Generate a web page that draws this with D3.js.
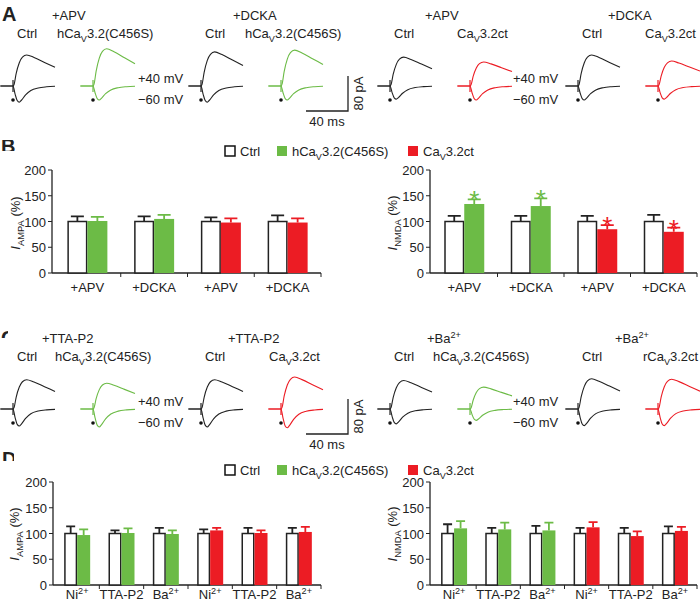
<!DOCTYPE html>
<html>
<head>
<meta charset="utf-8">
<script src="https://cdn.jsdelivr.net/npm/d3@7"></script>
<style>
body { margin: 0; background: #fff; }
text { font-family: "Liberation Sans", Arial, Helvetica, sans-serif; fill: #222; }
</style>
</head>
<body>
<svg id="fig" width="700" height="601"></svg>
<script>
// ---- data ----

// panel B (AMPA / NMDA currents, % of ctrl)
const groupsB = ['+APV', '+DCKA', '+APV', '+DCKA']
const seriesB = ['green', 'green', 'red', 'red']
const ampaCtrlB = [100, 100, 100, 100]
const ampaCtrlErrB = [10, 10, 8, 12]
const ampaTestB = [101, 105, 98, 98]
const ampaTestErrB = [8, 8, 8, 8]
const nmdaCtrlB = [100, 100, 100, 100]
const nmdaCtrlErrB = [11, 11, 11, 13]
const nmdaTestB = [134, 130, 85, 80]
const nmdaTestErrB = [9, 15, 8, 8]
const nmdaSigB = [true, true, true, true]

// panel D
const groupsD = ['Ni^{2+}', 'TTA-P2', 'Ba^{2+}', 'Ni^{2+}', 'TTA-P2', 'Ba^{2+}']
const seriesD = ['green', 'green', 'green', 'red', 'red', 'red']
const ampaCtrlD = [100, 100, 100, 100, 100, 100]
const ampaCtrlErrD = [14, 6, 11, 8, 11, 11]
const ampaTestD = [97, 101, 99, 106, 101, 103]
const ampaTestErrD = [11, 9, 7, 5, 5, 10]
const nmdaCtrlD = [100, 100, 100, 100, 100, 100]
const nmdaCtrlErrD = [18, 11, 15, 11, 11, 14]
const nmdaTestD = [110, 108, 106, 112, 95, 105]
const nmdaTestErrD = [14, 13, 15, 10, 9, 8]

const yTicks = [0, 50, 100, 150, 200]
const legendNames = ['Ctrl', 'hCa_{V}3.2(C456S)', 'Ca_{V}3.2ct']

// example traces: time after stimulus (ms), fraction of peak
const upShape = [[-12, 0], [0, 0], [1, 0.05], [3, 0.4], [6, 0.75], [9, 0.93], [13, 1], [20, 0.92], [30, 0.76], [40, 0.6]]
const downShape = [[-12, 0], [0, 0], [2, -0.5], [4, -0.9], [6, -1], [8, -0.88], [12, -0.55], [17, -0.28], [24, -0.12], [32, -0.05], [40, -0.02]]

// peak amplitudes (pA) per trace, order: ctrl, test, ctrl, test, ...
const traceSeries = ['ctrl', 'green', 'ctrl', 'green', 'ctrl', 'red', 'ctrl', 'red']
const upAmpA = [71, 85, 78, 82, 66, 55, 71, 57]
const downAmpA = [37, 32, 37, 32, 30, 32, 32, 30]
const traceSeriesC = ['ctrl', 'green', 'ctrl', 'red', 'ctrl', 'green', 'ctrl', 'red']
const upAmpC = [67, 59, 67, 73, 65, 50, 69, 68]
const downAmpC = [39, 41, 41, 43, 34, 26, 38, 38]

const condA = ['+APV', '+DCKA', '+APV', '+DCKA']
const testNamesA = ['hCa_{V}3.2(C456S)', 'hCa_{V}3.2(C456S)', 'Ca_{V}3.2ct', 'Ca_{V}3.2ct']
const condC = ['+TTA-P2', '+TTA-P2', '+Ba^{2+}', '+Ba^{2+}']
const testNamesC = ['hCa_{V}3.2(C456S)', 'Ca_{V}3.2ct', 'hCa_{V}3.2(C456S)', 'rCa_{V}3.2ct']

// ---- drawing ----
const colors = { ctrl: '#222', green: '#6cbb46', red: '#ec1c24' }
const svg = d3.select('#fig')

// text with _{sub} and ^{sup} parts
const rich = (sel, str) => {
    const parts = str.split(/(_\{[^}]*\}|\^\{[^}]*\})/).filter(s => s !== '')
    let shift = 0
    parts.forEach(p => {
        let dy = 0, txt = p, small = false
        if (p.startsWith('_{')) { txt = p.slice(2, -1); dy = 3.5; small = true }
        else if (p.startsWith('^{')) { txt = p.slice(2, -1); dy = -5; small = true }
        const t = sel.append('tspan').text(txt).attr('dy', dy - shift)
        if (small) t.attr('font-size', '0.7em')
        shift = dy
    })
    return sel
}

// panel letters, cropped like the source figure
const letters = [
    { l: 'A', x: 2, y: 21, clip: null },
    { l: 'B', x: 1, y: 153, clip: [0, 140, 20, 11] },
    { l: 'C', x: 1, y: 345, clip: [0, 322, 8, 16] },
    { l: 'D', x: 2, y: 466, clip: [0, 445, 14, 16] }
]
letters.forEach((d, i) => {
    const g = svg.append('g')
    if (d.clip) {
        svg.append('clipPath').attr('id', 'cl' + i).append('rect')
            .attr('x', d.clip[0]).attr('y', d.clip[1]).attr('width', d.clip[2]).attr('height', d.clip[3])
        g.attr('clip-path', `url(#cl${i})`)
    }
    g.append('text').attr('x', d.x).attr('y', d.y).attr('font-size', 20).attr('font-weight', 600).text(d.l)
})

// one panel of example traces
const drawTraces = (top, conds, tests, series, upAmp, downAmp, condX, testX) => {
    const g = svg.append('g')
    const base = top + 66
    const pairX = [0, 188, 377, 565]
    const line = d3.line().curve(d3.curveMonotoneX)
    conds.forEach((c, i) => {
        rich(g.append('text').attr('x', condX[i]).attr('y', top).attr('font-size', 13), c)
        g.append('text').attr('x', pairX[i] + 17).attr('y', top + 18).attr('font-size', 13).text('Ctrl')
        rich(g.append('text').attr('x', testX[i]).attr('y', top + 18).attr('font-size', 13), tests[i])
    })
    series.forEach((s, k) => {
        const stim = pairX[Math.floor(k / 2)] + (k % 2 ? 93 : 13)
        const x = d3.scaleLinear().domain([0, 40]).range([stim, stim + 42])
        const y = d3.scaleLinear().domain([0, 80]).range([base, base - 35])
        const col = colors[s]
        g.append('path').attr('d', line(upShape.map(p => [x(p[0]), y(p[1] * upAmp[k])])))
            .attr('fill', 'none').attr('stroke', col).attr('stroke-width', 1.1)
        g.append('path').attr('d', line(downShape.map(p => [x(p[0]), y(p[1] * downAmp[k])])))
            .attr('fill', 'none').attr('stroke', col).attr('stroke-width', 1.1)
        g.append('line').attr('x1', x(0)).attr('x2', x(0)).attr('y1', base - 6).attr('y2', base + 6)
            .attr('stroke', col).attr('stroke-width', 1.2)
        g.append('circle').attr('cx', x(0)).attr('cy', base + 14).attr('r', 1.8).attr('fill', '#111')
    })
    ;[138, 513].forEach(vx => {
        g.append('text').attr('x', vx).attr('y', base - 3).attr('font-size', 13).text('+40 mV')
        g.append('text').attr('x', vx).attr('y', base + 18).attr('font-size', 13).text('\u221260 mV')
    })
    // scale bar 40 ms / 80 pA
    const sx = d3.scaleLinear().domain([0, 40]).range([306, 348])
    const sy = d3.scaleLinear().domain([0, 80]).range([base + 25, base - 10])
    g.append('path').attr('d', `M${sx(0)},${sy(0)}H${sx(40)}V${sy(80)}`)
        .attr('fill', 'none').attr('stroke', '#222').attr('stroke-width', 1.3)
    g.append('text').attr('x', sx(20)).attr('y', sy(0) + 15).attr('text-anchor', 'middle').attr('font-size', 13).text('40 ms')
    g.append('text').attr('transform', `translate(${sx(40) + 15},${sy(40)}) rotate(-90)`)
        .attr('text-anchor', 'middle').attr('font-size', 13).text('80 pA')
}

drawTraces(20, condA, testNamesA, traceSeries, upAmpA, downAmpA, [52, 233, 425, 608], [57, 245, 457, 645])
drawTraces(343, condC, testNamesC, traceSeriesC, upAmpC, downAmpC, [42, 228, 427, 615], [55, 269, 433, 643])

// legend
const drawLegend = (ly) => {
    const lx = [225, 277, 408]
    legendNames.forEach((n, i) => {
        const fill = i === 0 ? '#fff' : (i === 1 ? colors.green : colors.red)
        svg.append('rect').attr('x', lx[i]).attr('y', ly - 5).attr('width', 10).attr('height', 10)
            .attr('fill', fill).attr('stroke', i === 0 ? '#111' : 'none').attr('stroke-width', 1.5)
        rich(svg.append('text').attr('x', lx[i] + 15).attr('y', ly + 5).attr('font-size', 13), n)
    })
}
drawLegend(151)
drawLegend(470)

// bar chart
const barChart = (c) => {
    const g = svg.append('g')
    const y = d3.scaleLinear().domain([0, 200]).range([c.y0, c.y200])
    const x = d3.scaleBand().domain(d3.range(c.groups.length)).range(c.range)
    const cx = i => x(i) + x.bandwidth() / 2
    // axes
    g.append('line').attr('x1', c.axisX).attr('x2', c.axisX).attr('y1', y(0)).attr('y2', y(200))
        .attr('stroke', '#222').attr('stroke-width', 1.3)
    g.append('line').attr('x1', c.axisX).attr('x2', c.range[1]).attr('y1', y(0)).attr('y2', y(0))
        .attr('stroke', '#222').attr('stroke-width', 1.3)
    yTicks.forEach(t => {
        g.append('line').attr('x1', c.axisX - 4).attr('x2', c.axisX).attr('y1', y(t)).attr('y2', y(t)).attr('stroke', '#222')
        g.append('text').attr('x', c.axisX - 6).attr('y', y(t) + 5).attr('text-anchor', 'end').attr('font-size', 13).text(t)
    })
    d3.range(1, c.groups.length + 1).forEach(i => {
        const tx = i < c.groups.length ? x(i) : c.range[1]
        g.append('line').attr('x1', tx).attr('x2', tx).attr('y1', y(0)).attr('y2', y(0) + 4).attr('stroke', '#222')
    })
    const yl = g.append('text').attr('transform', `translate(${c.labelX},${c.labelY}) rotate(-90)`)
        .attr('text-anchor', 'middle').attr('font-size', 13)
    yl.append('tspan').attr('font-style', 'italic').text('I')
    yl.append('tspan').attr('font-size', '0.72em').attr('dy', 3.5).text(c.sub)
    yl.append('tspan').attr('dy', -3.5).text(' (%)')

    c.groups.forEach((name, i) => {
        const m = cx(i), w = c.barW
        const col = colors[c.series[i]]
        // ctrl bar
        g.append('rect').attr('x', m - w + 0.75).attr('y', y(c.ctrl[i])).attr('width', w - 1.5)
            .attr('height', y(0) - y(c.ctrl[i])).attr('fill', '#fff').attr('stroke', '#222').attr('stroke-width', 1.5)
        g.append('rect').attr('x', m).attr('y', y(c.test[i])).attr('width', w)
            .attr('height', y(0) - y(c.test[i])).attr('fill', col)
        // error bars (upper only)
        const eb = (bx, v, e, ec) => {
            g.append('path').attr('d', `M${bx},${y(v)}V${y(v + e)}M${bx - c.cap / 2},${y(v + e)}H${bx + c.cap / 2}`)
                .attr('stroke', ec).attr('stroke-width', 1.8).attr('fill', 'none')
        }
        eb(m - w / 2, c.ctrl[i], c.ctrlErr[i], '#222')
        eb(m + w / 2, c.test[i], c.testErr[i], col)
        if (c.sig && c.sig[i]) {
            g.append('text').attr('x', m + w / 2).attr('y', y(c.test[i] + c.testErr[i]) + 10)
                .attr('text-anchor', 'middle').attr('font-size', 26).style('fill', col).text('*')
        }
        rich(g.append('text').attr('x', m).attr('y', y(0) + c.lblDy).attr('text-anchor', 'middle').attr('font-size', c.fs), name)
    })
}

barChart({ groups: groupsB, series: seriesB, ctrl: ampaCtrlB, ctrlErr: ampaCtrlErrB, test: ampaTestB, testErr: ampaTestErrB,
    y0: 273, y200: 170, axisX: 52, range: [54, 321], barW: 20, cap: 13, sub: 'AMPA', labelX: 20, labelY: 223, fs: 13, lblDy: 19 })
barChart({ groups: groupsB, series: seriesB, ctrl: nmdaCtrlB, ctrlErr: nmdaCtrlErrB, test: nmdaTestB, testErr: nmdaTestErrB, sig: nmdaSigB,
    y0: 273, y200: 170, axisX: 430, range: [431, 697], barW: 20, cap: 13, sub: 'NMDA', labelX: 397, labelY: 223, fs: 13, lblDy: 19 })
barChart({ groups: groupsD, series: seriesD, ctrl: ampaCtrlD, ctrlErr: ampaCtrlErrD, test: ampaTestD, testErr: ampaTestErrD,
    y0: 585, y200: 482, axisX: 53, range: [55, 321], barW: 13, cap: 9, sub: 'AMPA', labelX: 19, labelY: 534, fs: 13, lblDy: 14 })
barChart({ groups: groupsD, series: seriesD, ctrl: nmdaCtrlD, ctrlErr: nmdaCtrlErrD, test: nmdaTestD, testErr: nmdaTestErrD,
    y0: 585, y200: 482, axisX: 430, range: [432, 697], barW: 13, cap: 9, sub: 'NMDA', labelX: 397, labelY: 534, fs: 13, lblDy: 14 })
</script>
</body>
</html>
